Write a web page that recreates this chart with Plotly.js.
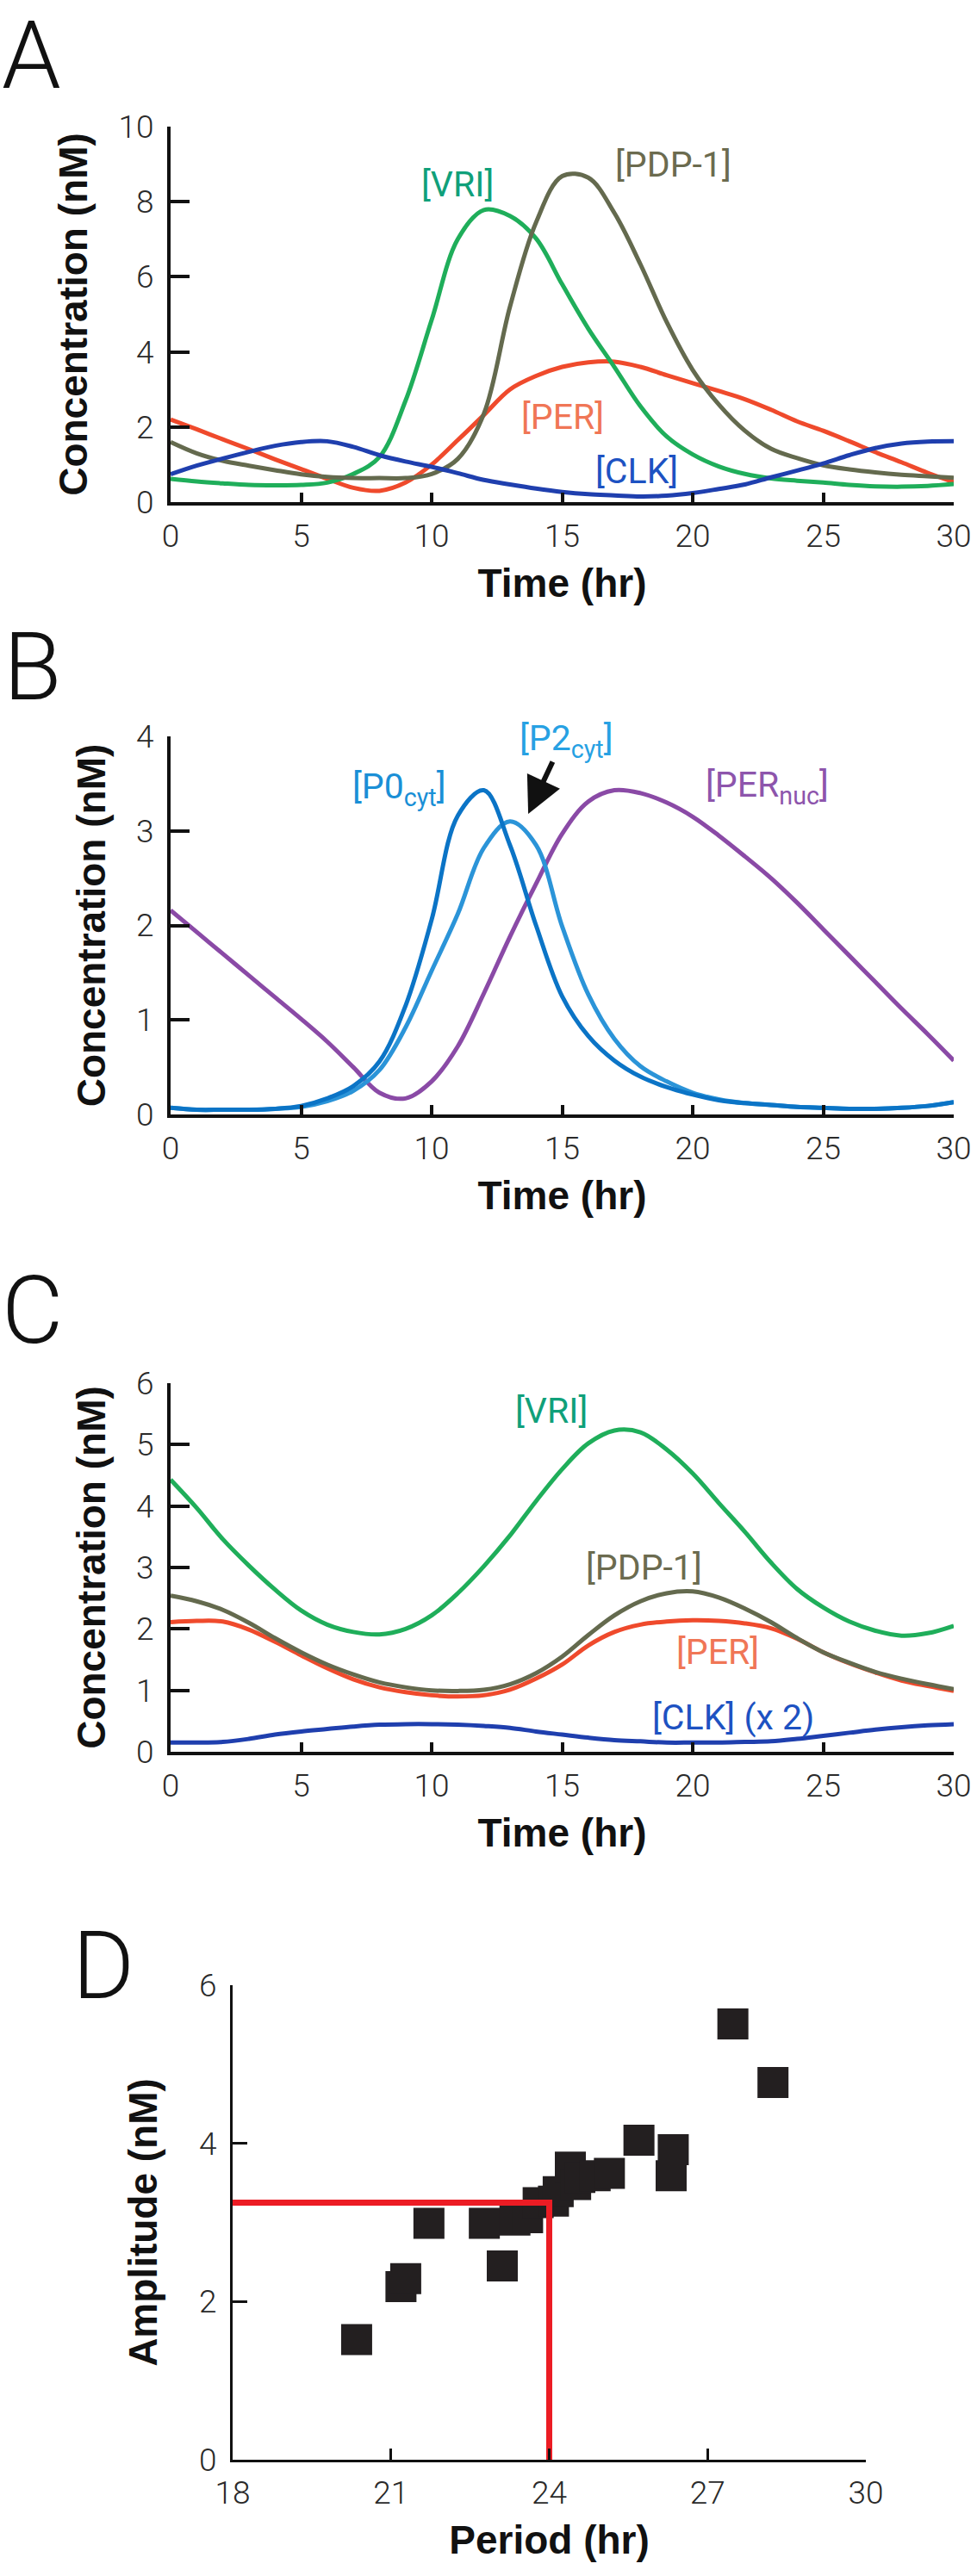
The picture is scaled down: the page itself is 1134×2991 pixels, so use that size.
<!DOCTYPE html>
<html><head><meta charset="utf-8">
<script src="https://cdn.plot.ly/plotly-3.0.1.min.js"></script>
<style>html,body{margin:0;padding:0;background:#fff;} #chart{width:1134px;height:2991px;}</style>
</head><body><div id="chart"></div>
<script>
// ---------- shared time axis (hr) ----------
const hours = [0,1,2,3,4,5,6,7,8,9,10,11,12,13,14,15,16,17,18,19,20,21,22,23,24,25,26,27,28,29,30];

// ---------- Panel A (nM) ----------
const aVRI = [0.62,0.55,0.50,0.46,0.45,0.46,0.52,0.75,1.20,2.70,4.85,7.00,7.78,7.62,7.02,5.80,4.62,3.60,2.55,1.75,1.27,0.95,0.75,0.63,0.57,0.52,0.46,0.42,0.41,0.43,0.48];
const aPDP = [1.60,1.30,1.10,0.97,0.85,0.74,0.67,0.64,0.64,0.64,0.75,1.15,2.35,5.20,7.45,8.68,8.64,7.70,6.33,4.80,3.52,2.60,1.90,1.42,1.17,0.98,0.87,0.79,0.73,0.69,0.65];
const aPER = [2.20,1.94,1.67,1.41,1.14,0.88,0.62,0.38,0.30,0.52,1.00,1.65,2.32,3.00,3.36,3.60,3.72,3.74,3.60,3.38,3.17,2.96,2.74,2.46,2.15,1.90,1.62,1.33,1.06,0.78,0.53];
const aCLK = [0.74,0.97,1.16,1.34,1.50,1.60,1.62,1.47,1.25,1.08,0.94,0.77,0.59,0.47,0.36,0.27,0.21,0.18,0.15,0.17,0.24,0.35,0.47,0.66,0.84,1.03,1.25,1.44,1.56,1.61,1.62];

// ---------- Panel B (nM) ----------
const bP0cyt  = [0.07,0.05,0.05,0.05,0.06,0.09,0.17,0.30,0.56,1.15,2.06,3.16,3.43,2.85,2.00,1.25,0.83,0.57,0.40,0.29,0.21,0.15,0.12,0.10,0.08,0.07,0.06,0.06,0.07,0.09,0.13];
const bP2cyt  = [0.07,0.05,0.05,0.05,0.06,0.08,0.14,0.25,0.47,0.92,1.52,2.12,2.82,3.10,2.85,1.99,1.27,0.80,0.51,0.35,0.23,0.16,0.12,0.10,0.08,0.07,0.06,0.06,0.07,0.09,0.13];
const bPERnuc = [2.16,1.93,1.70,1.47,1.24,1.01,0.77,0.50,0.23,0.17,0.35,0.72,1.28,1.88,2.44,2.97,3.31,3.43,3.40,3.30,3.15,2.95,2.73,2.50,2.24,1.96,1.68,1.40,1.12,0.85,0.57];

// ---------- Panel C (nM) ----------
const cVRI = [4.43,3.97,3.46,3.03,2.64,2.30,2.07,1.95,1.91,2.00,2.22,2.58,3.02,3.52,4.08,4.60,5.02,5.23,5.20,4.92,4.53,4.05,3.58,3.08,2.65,2.35,2.12,1.97,1.89,1.93,2.05];
const cPDP = [2.54,2.45,2.31,2.10,1.85,1.62,1.42,1.26,1.13,1.05,1.00,0.99,1.01,1.10,1.28,1.55,1.90,2.22,2.45,2.58,2.61,2.51,2.33,2.11,1.85,1.62,1.45,1.30,1.19,1.10,1.02];
const cPER = [2.11,2.13,2.12,1.99,1.79,1.57,1.36,1.18,1.05,0.97,0.92,0.90,0.92,1.01,1.19,1.42,1.73,1.95,2.07,2.12,2.14,2.13,2.09,2.01,1.84,1.62,1.44,1.29,1.16,1.07,0.99];
const cCLK = [0.15,0.15,0.16,0.21,0.28,0.33,0.37,0.41,0.44,0.45,0.45,0.44,0.42,0.39,0.33,0.28,0.23,0.19,0.17,0.15,0.15,0.15,0.16,0.17,0.21,0.26,0.31,0.36,0.40,0.43,0.45];

// ---------- Panel D ----------
const dPeriod    = [20.35,21.19,21.28,21.72,22.77,23.11,23.35,23.59,23.79,24.08,24.17,24.40,24.50,24.58,24.87,25.14,25.70,26.31,26.35,27.48,28.24];
const dAmplitude = [1.52,2.19,2.29,2.99,2.99,2.45,3.03,3.06,3.25,3.27,3.39,3.70,3.48,3.57,3.59,3.62,4.04,3.59,3.92,5.51,4.77];
const dRefPeriod    = [18,24,24];
const dRefAmplitude = [3.25,3.25,0];

// ---------- tick labels ----------
const timeTicks = [0,5,10,15,20,25,30];
const aTicks = [0,2,4,6,8,10];
const bTicks = [0,1,2,3,4];
const cTicks = [0,1,2,3,4,5,6];
const dxTicks = [18,21,24,27,30];
const dyTicks = [0,2,4,6];

const C = {
  green:'#1fae5a', olive:'#646a4e', red:'#ef4a2c', clk:'#1f3fae',
  p0:'#0b74c6', p2:'#2b94d8', purple:'#8a4aa6'
};
const LW = 5;
function line(x, y, color, xa, ya, name){
  return {x:x, y:y, type:'scatter', mode:'lines', name:name, xaxis:xa, yaxis:ya,
          line:{color:color, width:LW, shape:'spline', smoothing:1}, hoverinfo:'skip', showlegend:false};
}

const traces = [
  line(hours, aPER, C.red,   'x','y','[PER]'),
  line(hours, aVRI, C.green, 'x','y','[VRI]'),
  line(hours, aPDP, C.olive, 'x','y','[PDP-1]'),
  line(hours, aCLK, C.clk,   'x','y','[CLK]'),

  line(hours, bPERnuc, C.purple, 'x2','y2','[PERnuc]'),
  line(hours, bP2cyt,  C.p2,     'x2','y2','[P2cyt]'),
  line(hours, bP0cyt,  C.p0,     'x2','y2','[P0cyt]'),

  line(hours, cPER, C.red,   'x3','y3','[PER]'),
  line(hours, cPDP, C.olive, 'x3','y3','[PDP-1]'),
  line(hours, cVRI, C.green, 'x3','y3','[VRI]'),
  line(hours, cCLK, C.clk,   'x3','y3','[CLK] (x 2)'),

  {x:dPeriod, y:dAmplitude, type:'scatter', mode:'markers', xaxis:'x4', yaxis:'y4', showlegend:false,
   marker:{symbol:'square', size:36, color:'#231f20', line:{width:0}}, hoverinfo:'skip', cliponaxis:false},
  {x:dRefPeriod, y:dRefAmplitude, type:'scatter', mode:'lines', xaxis:'x4', yaxis:'y4', showlegend:false,
   line:{color:'#ec1c24', width:7}, hoverinfo:'skip'}
];

const W = 1134, H = 2991;
const px = v => v / W;
const py = v => 1 - v / H;

const tickFont = {family:'Roboto, Arial, sans-serif', size:37, color:'#2a2a2a', weight:300};
const titleFont = {family:'Liberation Sans, Arial, sans-serif', size:46, color:'#111', weight:700};

function xAxis(domain, anchor, range, tickvals, title, ticklen, lw){
  return {domain:domain, anchor:anchor, range:range, tickvals:tickvals, ticktext:tickvals.map(String),
    showline:true, linecolor:'#111', linewidth:lw, ticks:'inside', ticklen:ticklen, tickwidth:lw, tickcolor:'#111',
    showgrid:false, zeroline:false, fixedrange:true, tickfont:tickFont, ticklabelstandoff:4,
    title:{text:title, font:titleFont, standoff:18}};
}
function yAxis(domain, anchor, range, tickvals, title, ticklen, lw, standoff){
  return {domain:domain, anchor:anchor, range:range, tickvals:tickvals, ticktext:tickvals.map(String),
    showline:true, linecolor:'#111', linewidth:lw, ticks:'inside', ticklen:ticklen, tickwidth:lw, tickcolor:'#111',
    showgrid:false, zeroline:false, fixedrange:true, tickfont:tickFont, ticklabelstandoff:8,
    title:{text:title, font:titleFont, standoff:standoff}};
}

const xDomABC = [px(198), px(1107)];
const layout = {
  width:W, height:H, margin:{l:0,r:0,t:0,b:0}, paper_bgcolor:'#fff', plot_bgcolor:'rgba(0,0,0,0)',
  showlegend:false,
  xaxis:  xAxis(xDomABC, 'y',  [0,30], timeTicks, 'Time (hr)', 11, 4),
  yaxis:  yAxis([py(583), py(147)], 'x', [0,10], aTicks, 'Concentration (nM)', 22, 4, 22),
  xaxis2: xAxis(xDomABC, 'y2', [0,30], timeTicks, 'Time (hr)', 11, 4),
  yaxis2: yAxis([py(1294), py(855)], 'x2', [0,4], bTicks, 'Concentration (nM)', 22, 4, 22),
  xaxis3: xAxis(xDomABC, 'y3', [0,30], timeTicks, 'Time (hr)', 11, 4),
  yaxis3: yAxis([py(2034), py(1606)], 'x3', [0,6], cTicks, 'Concentration (nM)', 22, 4, 22),
  xaxis4: xAxis([px(270), px(1005)], 'y4', [18,30], dxTicks, 'Period (hr)', 13, 3),
  yaxis4: yAxis([py(2856), py(2305)], 'x4', [0,6], dyTicks, 'Amplitude (nM)', 17, 3, 34),
  annotations: []
};

const labFont = (c) => ({family:'Roboto, Arial, sans-serif', size:41, color:c});
function lab(text, x, y, xr, yr, color){
  return {text:text, x:x, y:y, xref:xr, yref:yr, showarrow:false, xanchor:'center', yanchor:'middle', font:labFont(color)};
}
layout.annotations.push(
  lab('[VRI]', 10.99, 8.47, 'x','y', '#10a07a'),
  lab('[PDP-1]', 19.27, 8.99, 'x','y', '#6b6b4f'),
  lab('[PER]', 15.02, 2.28, 'x','y', '#f07656'),
  lab('[CLK]', 17.84, 0.83, 'x','y', '#1d52c2'),

  lab('[P0<sub>cyt</sub>]', 8.75, 3.44, 'x2','y2', '#1a8fd6'),
  lab('[P2<sub>cyt</sub>]', 15.18, 3.95, 'x2','y2', '#27a1e3'),
  lab('[PER<sub>nuc</sub>]', 22.87, 3.46, 'x2','y2', '#8d55ac'),
  {text:'', x:13.70, y:3.18, xref:'x2', yref:'y2', showarrow:true, ax:29, ay:-62,
   arrowhead:2, arrowsize:1.4, arrowwidth:6, arrowcolor:'#111'},

  lab('[VRI]', 14.59, 5.55, 'x3','y3', '#10a07a'),
  lab('[PDP-1]', 18.14, 3.0, 'x3','y3', '#6b6b4f'),
  lab('[PER]', 20.96, 1.63, 'x3','y3', '#f07656'),
  lab('[CLK] (x 2)', 21.55, 0.56, 'x3','y3', '#1d52c2')
);

const letterFont = {family:'Roboto, Arial, sans-serif', size:110, color:'#111', weight:300};
function letter(t, xpx, ypx){
  return {text:t, x:px(xpx), y:py(ypx), xref:'paper', yref:'paper', showarrow:false,
          xanchor:'left', yanchor:'middle', font:letterFont};
}
layout.annotations.push(letter('A', 0, 64), letter('B', 2, 774), letter('C', 0, 1521), letter('D', 82, 2282));

Plotly.newPlot('chart', traces, layout, {staticPlot:true, displayModeBar:false});
</script>
</body></html>
